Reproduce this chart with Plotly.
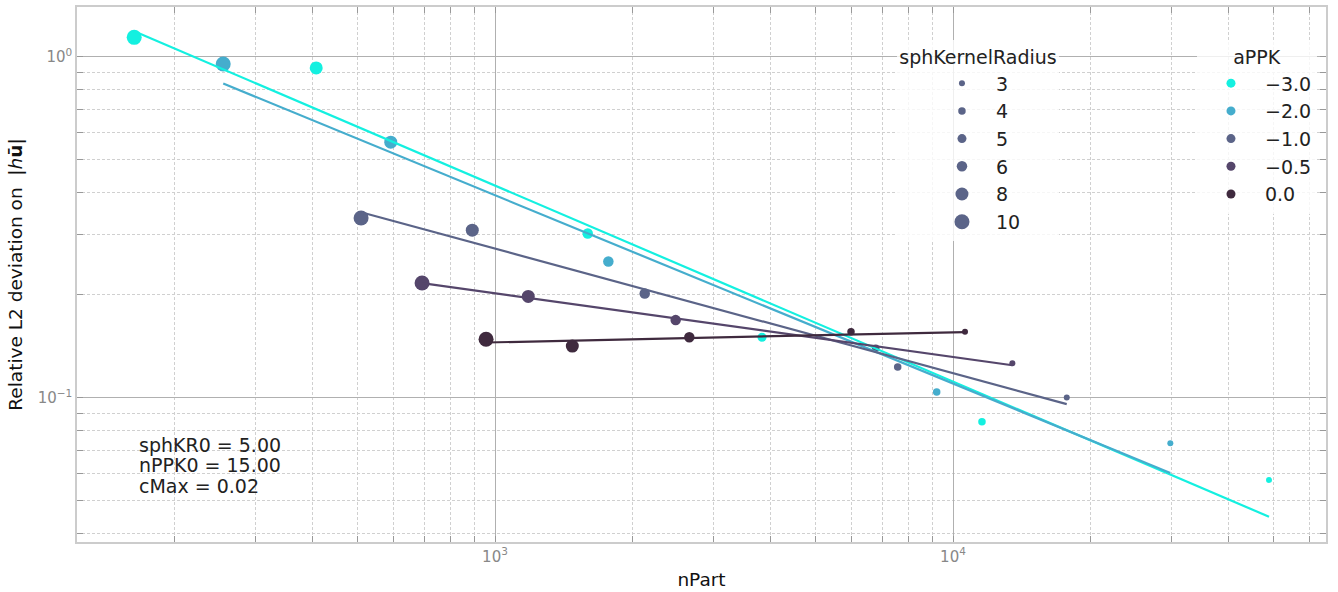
import plotly.graph_objects as go

# ---------------- data ----------------
appk_labels = ["\u22123.0", "\u22122.0", "\u22121.0", "\u22120.5", "0.0"]
appk_colors = ["#14F0E0", "#45ADCD", "#5B6488", "#55466B", "#3F2A3E"]

npart_m30 = [163, 407, 1594, 3828, 11567, 48978]
err_m30 = [1.140, 0.927, 0.3031, 0.1503, 0.0850, 0.0573]
kr_m30 = [10, 8, 6, 5, 4, 3]

npart_m20 = [255, 592, 1768, 9213, 29820]
err_m20 = [0.952, 0.5615, 0.2509, 0.1039, 0.0735]
kr_m20 = [10, 8, 6, 4, 3]

npart_m10 = [510, 892, 2123, 7573, 17715]
err_m10 = [0.3366, 0.3098, 0.2020, 0.1230, 0.1000]
kr_m10 = [10, 8, 6, 4, 3]

npart_m05 = [693, 1182, 2480, 6781, 13476]
err_m05 = [0.2169, 0.1981, 0.1688, 0.1396, 0.1261]
kr_m05 = [10, 8, 6, 4, 3]

npart_00 = [956, 1475, 2656, 5988, 10622]
err_00 = [0.1483, 0.1416, 0.1503, 0.1561, 0.1559]
kr_00 = [10, 8, 6, 4, 3]

# power-law fits  log10(err) = fit_logA + fit_slope * log10(nPart)
fit_slope = [-0.5748, -0.5524, -0.3653, -0.1869, 0.0294]
fit_logA = [1.3463, 1.2508, 0.5329, -0.1333, -0.9260]

kr_legend = [3, 4, 5, 6, 8, 10]
kr_diam = {3: 6, 4: 7.5, 5: 9, 6: 10.5, 8: 13, 10: 15}
size_legend_color = "#5B6488"

info_text = ["sphKR0 = 5.00", "nPPK0 = 15.00", "cMax = 0.02"]

series = [
    (npart_m30, err_m30, kr_m30),
    (npart_m20, err_m20, kr_m20),
    (npart_m10, err_m10, kr_m10),
    (npart_m05, err_m05, kr_m05),
    (npart_00, err_00, kr_00),
]

FONT = "DejaVu Sans"
TXT = 19
fig = go.Figure()

# markers
for (xs, ys, ks), col in zip(series, appk_colors):
    fig.add_trace(go.Scatter(
        x=xs, y=ys, mode="markers",
        marker=dict(size=[kr_diam[k] for k in ks], color=col, opacity=1,
                    line=dict(width=0)),
        showlegend=False, hoverinfo="x+y"))

# fit lines
for (xs, ys, ks), col, b, a in zip(series, appk_colors, fit_slope, fit_logA):
    xl = [min(xs), max(xs)]
    yl = [10 ** a * x ** b for x in xl]
    fig.add_trace(go.Scatter(x=xl, y=yl, mode="lines",
                             line=dict(color=col, width=2.2),
                             showlegend=False, hoverinfo="skip"))

# legend: sphKernelRadius
for k in kr_legend:
    fig.add_trace(go.Scatter(
        x=[None], y=[None], mode="markers", name=str(k),
        marker=dict(size=kr_diam[k], color=size_legend_color, opacity=1),
        legend="legend", legendgroup="kr%d" % k, showlegend=True))

# legend: aPPK
for lab, col in zip(appk_labels, appk_colors):
    fig.add_trace(go.Scatter(
        x=[None], y=[None], mode="markers", name=lab,
        marker=dict(size=9, color=col, opacity=1),
        legend="legend2", legendgroup="ap" + lab, showlegend=True))

minor_x = [m * 10 ** e for e in (2, 3, 4) for m in range(2, 10)]
minor_y = [m * 10 ** e for e in (-2, -1, 0) for m in range(2, 10)]

axis_common = dict(
    type="log",
    showgrid=True, gridcolor="#b0b0b0", gridwidth=1,
    showline=True, linecolor="#cccccc", linewidth=1.5, mirror="ticks",
    ticks="inside", ticklen=6, tickcolor="#999999", tickwidth=1,
    tickfont=dict(family=FONT, size=15, color="#888888"),
    zeroline=False,
)
minor_common = dict(showgrid=True, griddash="3px,2px", gridcolor="#d0d0d0",
                    gridwidth=0.8, ticks="inside", ticklen=6,
                    tickcolor="#999999")

fig.update_layout(
    width=1338, height=592,
    margin=dict(l=77, r=12, t=5, b=46),
    paper_bgcolor="white", plot_bgcolor="white",
    font=dict(family=FONT, size=TXT, color="#222222"),
    xaxis=dict(
        **axis_common,
        range=[2.0873, 4.8144],
        tickmode="array", tickvals=[1e3, 1e4],
        ticktext=["10<sup>3</sup>", "10<sup>4</sup>"],
        minor=dict(tickmode="array", tickvals=minor_x, **minor_common),
        title=dict(text="nPart", font=dict(family=FONT, size=18.5, color="#111111"),
                   standoff=8),
    ),
    yaxis=dict(
        **axis_common,
        range=[-1.4236, 0.1459],
        tickmode="array", tickvals=[0.1, 1],
        ticktext=["10<sup>\u22121</sup>", "10<sup>0</sup>"],
        minor=dict(tickmode="array", tickvals=minor_y, **minor_common),
        title=dict(text="Relative L2 deviation on  |<i>h</i><b>\u016b</b>|",
                   font=dict(family=FONT, size=18.5, color="#111111"), standoff=10),
    ),
    legend=dict(
        title=dict(text="sphKernelRadius", side="top center",
                   font=dict(family=FONT, size=TXT, color="#222222")),
        x=0.6565, xanchor="left", y=0.939, yanchor="top",
        bgcolor="rgba(255,255,255,0.8)", borderwidth=0,
        font=dict(family=FONT, size=TXT, color="#222222"),
        itemsizing="trace", itemwidth=58, tracegroupgap=0, traceorder="grouped",
        indentation=31,
    ),
    legend2=dict(
        title=dict(text="aPPK", side="top center",
                   font=dict(family=FONT, size=TXT, color="#222222")),
        x=0.8967, xanchor="left", y=0.939, yanchor="top",
        bgcolor="rgba(255,255,255,0.8)", borderwidth=0,
        font=dict(family=FONT, size=TXT, color="#222222"),
        itemsizing="trace", itemwidth=58, tracegroupgap=0, traceorder="grouped",
        indentation=0,
    ),
    annotations=[dict(
        text=t, xref="paper", yref="paper",
        x=0.048, y=yy, xanchor="left", yanchor="middle", align="left",
        showarrow=False, font=dict(family=FONT, size=TXT, color="#222222"))
        for t, yy in zip(info_text, [0.1818, 0.1434, 0.1049])],
)

fig.write_html("out.html")
